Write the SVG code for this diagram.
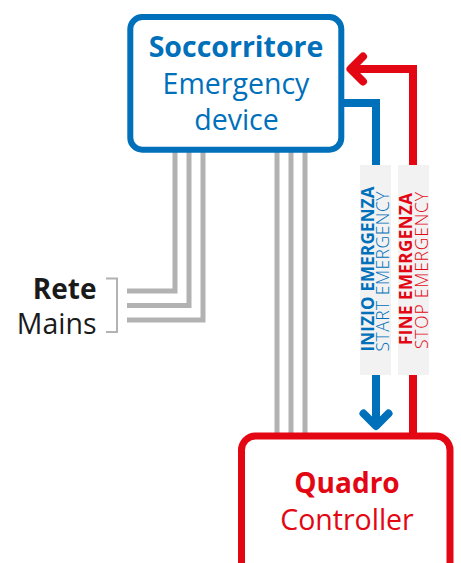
<svg xmlns="http://www.w3.org/2000/svg" width="461" height="563" viewBox="0 0 461 563">
  <style>
    .txt { font-family: "Open Sans", "Liberation Sans", sans-serif; }
    .b { font-weight: 700; }
    .l { font-weight: 300; }
    .blue { fill: #0070ba; }
    .red { fill: #e30613; }
    .wire { fill: none; stroke: #b2b2b2; stroke-width: 5; stroke-linejoin: miter; }
    .sig-blue { fill: none; stroke: #0070ba; stroke-width: 8; stroke-linejoin: miter; }
    .sig-red { fill: none; stroke: #e30613; stroke-width: 8; stroke-linejoin: miter; }
    .head { stroke-linecap: round; stroke-linejoin: round; }
    .tag { fill: #f2f2f2; }
  </style>
  <rect width="461" height="563" fill="#ffffff"/>

  <!-- connectors -->
  <g id="connectors">
    <!-- mains wires into the emergency device -->
    <path class="wire" d="M127 291 H175 V150"/>
    <path class="wire" d="M127 305.5 H189 V150"/>
    <path class="wire" d="M127 320 H203 V150"/>
    <!-- wires between the two units -->
    <path class="wire" d="M277 150 V436"/>
    <path class="wire" d="M291 150 V436"/>
    <path class="wire" d="M305 150 V436"/>
    <!-- start emergency signal -->
    <path class="sig-blue" d="M341 103 H376 V424"/>
    <path class="sig-blue head" d="M363.5 413.5 L376 426 L388.5 413.5"/>
    <!-- stop emergency signal -->
    <path class="sig-red" d="M413 436 V69 H352"/>
    <path class="sig-red head" d="M363 56.5 L350.5 69 L363 81.5"/>
    <!-- signal labels -->
    <rect class="tag" x="360" y="165" width="31" height="210"/>
    <rect class="tag" x="398" y="165" width="31" height="210"/>
    <text class="txt b blue" font-size="17" text-anchor="middle" textLength="165" lengthAdjust="spacing" transform="translate(374.3,269) rotate(-90)">INIZIO EMERGENZA</text>
    <text class="txt l blue" font-size="17.5" text-anchor="middle" textLength="160" lengthAdjust="spacing" transform="translate(389.3,271.5) rotate(-90)">START EMERGENCY</text>
    <text class="txt b red" font-size="17" text-anchor="middle" textLength="152" lengthAdjust="spacing" transform="translate(412.3,269) rotate(-90)">FINE EMERGENZA</text>
    <text class="txt l red" font-size="17.5" text-anchor="middle" textLength="157" lengthAdjust="spacing" transform="translate(427.7,270.5) rotate(-90)">STOP EMERGENCY</text>
  </g>

  <!-- emergency device -->
  <g id="soccorritore">
    <rect x="130.3" y="17" width="211" height="132.7" rx="12" fill="#ffffff" stroke="#0070ba" stroke-width="6"/>
    <text class="txt b blue" x="236" y="57.3" font-size="28.5" text-anchor="middle">Soccorritore</text>
    <text class="txt blue" x="236" y="94.3" font-size="28.5" text-anchor="middle">Emergency</text>
    <text class="txt blue" x="236.5" y="130" font-size="28.5" text-anchor="middle">device</text>
  </g>

  <!-- controller -->
  <g id="quadro">
    <rect x="241.5" y="436" width="208.5" height="160" rx="14" fill="#ffffff" stroke="#e30613" stroke-width="7"/>
    <text class="txt b red" x="347" y="493.3" font-size="28" text-anchor="middle">Quadro</text>
    <text class="txt red" x="347" y="530" font-size="28.5" text-anchor="middle">Controller</text>
  </g>

  <!-- mains label -->
  <g id="rete">
    <path d="M106 278.5 H117 V332 H106" fill="none" stroke="#b2b2b2" stroke-width="2"/>
    <text class="txt b" x="96.5" y="299" font-size="28" text-anchor="end" fill="#1a1a1a">Rete</text>
    <text class="txt" x="96.5" y="334" font-size="28.5" text-anchor="end" fill="#1a1a1a">Mains</text>
  </g>
</svg>
